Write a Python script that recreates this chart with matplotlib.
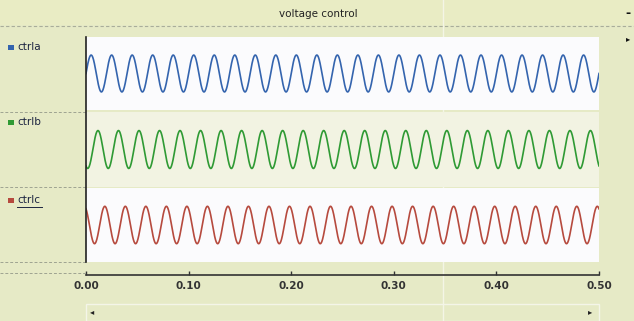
import numpy as np
import matplotlib
matplotlib.use("Agg")
from matplotlib import pyplot as plt
from matplotlib.lines import Line2D
from matplotlib.patches import Rectangle

# signals: 50 Hz, equal amplitude, 120 deg apart
names = ["ctrla", "ctrlb", "ctrlc"]
colors = ["#3464ae", "#2f9a34", "#b64a3e"]
freq_hz = 50.0
amplitude = [1.0, 1.0, 1.0]
phase_deg = [0.0, -120.0, 120.0]
t_end = 0.5
xticks = [0.0, 0.1, 0.2, 0.3, 0.4, 0.5]
xticklabels = ["0.00", "0.10", "0.20", "0.30", "0.40", "0.50"]

W, H = 634, 321
BG = "#e6eac6"
fig = plt.figure(figsize=(W / 100, H / 100), dpi=100)
fig.patch.set_facecolor(BG)

def fx(px):
	return px / W

def fy(py):
	return 1 - py / H

# title bar
fig.patches.append(Rectangle((0, fy(25)), 1, 25 / H, transform=fig.transFigure,
	facecolor="#e9ecc4", edgecolor="none", zorder=-3))
fig.text(fx(318), fy(14), "voltage control", ha="center", va="center",
	fontsize=7.5, color="#222222", fontweight="medium")
fig.text(fx(628), fy(13), "-", ha="center", va="center", fontsize=9,
	fontweight="bold", color="#111111")
fig.text(fx(628), fy(39), "\u25b8", ha="center", va="center", fontsize=6,
	color="#111111")
fig.lines.append(Line2D([0, 1], [fy(25.5)] * 2, transform=fig.transFigure,
	color="#a9ad9a", lw=0.8, ls=(0, (3, 2))))

# faint vertical scan line, hidden behind the panels
fig.lines.append(Line2D([fx(443)] * 2, [0, 1], transform=fig.transFigure,
	color="#f4f5e6", lw=1.0, zorder=-2))

# panels: top/bottom pixel rows and background
panels = [(37, 110, "#fbfbfd"), (112, 187, "#f2f3e2"), (188, 262, "#fbfbfd")]
legend_y = [47, 122, 200]

t = np.linspace(0, t_end, 3000)
x0, x1 = 86, 599
for i, (top, bot, fc) in enumerate(panels):
	ax = fig.add_axes([fx(x0), fy(bot), fx(x1 - x0), (bot - top) / H])
	ax.set_facecolor(fc)
	y = amplitude[i] * np.sin(2 * np.pi * freq_hz * t + np.deg2rad(phase_deg[i]))
	ax.plot(t, y, color=colors[i], lw=1.2)
	ax.set_xlim(0, t_end)
	ax.set_ylim(-1.98, 1.98)
	ax.set_xticks([])
	ax.set_yticks([])
	for s in ax.spines.values():
		s.set_visible(False)
	# legend entry in the left column
	fig.patches.append(Rectangle((fx(8), fy(legend_y[i] + 3)), fx(6), 5 / H,
		transform=fig.transFigure, facecolor=colors[i], edgecolor="none"))
	fig.text(fx(17), fy(legend_y[i]), names[i], ha="left", va="center",
		fontsize=7.5, color="#1c2440", fontweight="medium")

# underline under the selected trace name
fig.lines.append(Line2D([fx(17), fx(42)], [fy(207)] * 2, transform=fig.transFigure,
	color="#1c2440", lw=0.7))

# dashed separators in the left column
for py in [112, 187, 262, 273]:
	fig.lines.append(Line2D([0, fx(x0)], [fy(py)] * 2, transform=fig.transFigure,
		color="#9ea391", lw=0.7, ls=(0, (3, 2))))

# vertical axis line
fig.lines.append(Line2D([fx(x0)] * 2, [fy(37), fy(262)], transform=fig.transFigure,
	color="#222222", lw=1.2))

# time axis
axx = fig.add_axes([fx(x0), fy(275), fx(x1 - x0), 1 / H])
axx.patch.set_alpha(0)
axx.set_xlim(0, t_end)
axx.set_yticks([])
axx.set_xticks(xticks)
axx.set_xticklabels(xticklabels, fontsize=7.5, color="#333333", fontweight="bold")
axx.tick_params(axis="x", direction="in", length=3, width=1, color="#333333", pad=4)
for k in ["top", "left", "right"]:
	axx.spines[k].set_visible(False)
axx.spines["bottom"].set_color("#333333")
axx.spines["bottom"].set_linewidth(1.2)

# scrollbar
fig.patches.append(Rectangle((fx(x0), 0), fx(x1 - x0), 17 / H,
	transform=fig.transFigure, facecolor="none", edgecolor="#f4f5e8", lw=1.0))
fig.text(fx(92), fy(312), "\u25c2", ha="center", va="center", fontsize=6, color="#222222")
fig.text(fx(590), fy(312), "\u25b8", ha="center", va="center", fontsize=6, color="#222222")

fig.savefig("out.png", dpi=100, facecolor=fig.get_facecolor())
